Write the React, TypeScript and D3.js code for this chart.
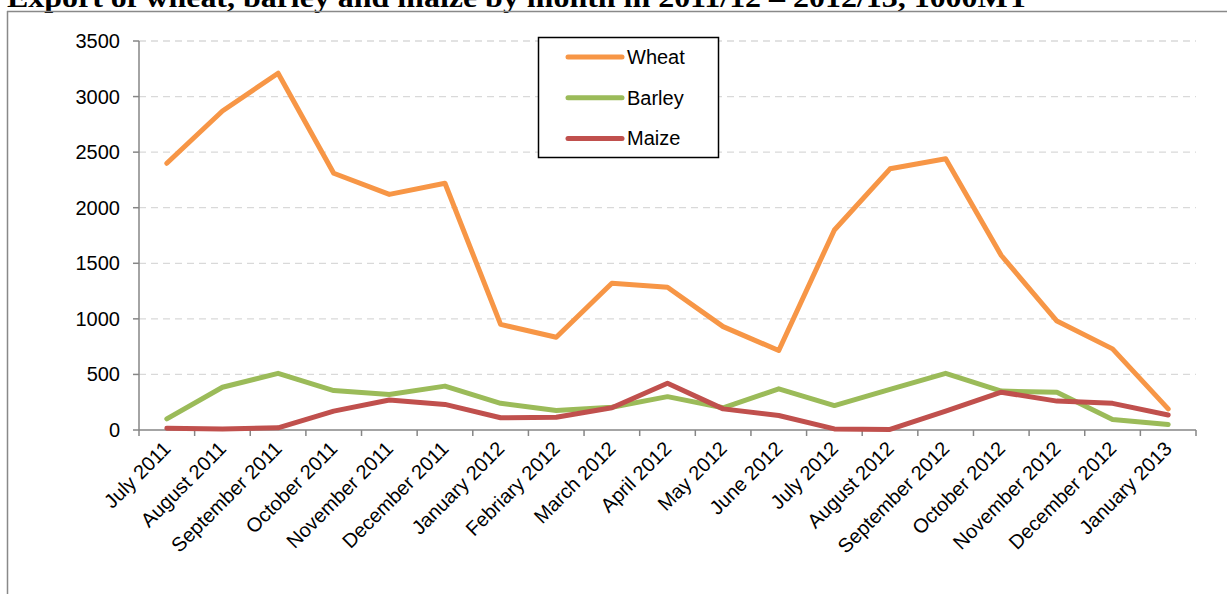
import * as d3 from 'd3';

const months = [
  'July 2011', 'August 2011', 'September 2011', 'October 2011', 'November 2011', 'December 2011',
  'January 2012', 'Febriary 2012', 'March 2012', 'April 2012', 'May 2012', 'June 2012',
  'July 2012', 'August 2012', 'September 2012', 'October 2012', 'November 2012', 'December 2012',
  'January 2013',
];

const wheat = [2400, 2870, 3210, 2310, 2120, 2220, 950, 835, 1320, 1285, 930, 715, 1800, 2350, 2440, 1570, 980, 730, 190];
const barley = [100, 385, 510, 355, 320, 395, 240, 175, 205, 300, 200, 370, 220, 365, 510, 350, 340, 95, 50];
const maize = [15, 10, 20, 170, 270, 230, 110, 115, 200, 420, 190, 130, 10, 5, 170, 340, 260, 240, 135];

const yTicks = [0, 500, 1000, 1500, 2000, 2500, 3000, 3500];

const series = [
  { name: 'Wheat', values: wheat, color: '#F79646' },
  { name: 'Barley', values: barley, color: '#9BBB59' },
  { name: 'Maize', values: maize, color: '#C0504D' },
];

const W = 1227;
const H = 594;
const left = 139;
const right = 1196;
const top = 41;
const bottom = 430;
const font = '"Liberation Sans", Arial, sans-serif';

export default function App() {
  const x = d3.scaleBand<string>().domain(months).range([left, right]).padding(0);
  const y = d3.scaleLinear().domain([0, 3500]).range([bottom, top]);
  const cx = (m: string) => (x(m) || 0) + x.bandwidth() / 2;

  const line = d3.line<number>()
    .x((_, i) => cx(months[i]))
    .y(d => y(d));

  const boundaries = months.map(m => x(m) || 0).concat([right]);

  return (
    <svg width={W} height={H} style={{ position: 'absolute', left: 0, top: 0, background: 'white' }}>
      {/* 제목 (위가 잘려 있음) */}
      <text x={7} y={7} fontFamily='"Liberation Serif", "Times New Roman", serif' fontWeight={700}
        fontSize={28} textLength={1022} lengthAdjust="spacingAndGlyphs" fill="#000">
        Export of wheat, barley and maize by month in 2011/12 – 2012/13, 1000MT
      </text>

      {/* 바깥 테두리 */}
      <line x1={7.5} x2={7.5} y1={11} y2={H} stroke="#898989" strokeWidth={1.5} />
      <line x1={7} x2={W} y1={11.5} y2={11.5} stroke="#898989" strokeWidth={1.5} />

      {/* 격자선 */}
      {yTicks.filter(t => t > 0).map(t => (
        <line key={t} x1={left} x2={right} y1={y(t)} y2={y(t)} stroke="#D9D9D9"
          strokeWidth={1.3} strokeDasharray="7,5" />
      ))}

      {/* Y 축 */}
      <line x1={left} x2={left} y1={top} y2={bottom} stroke="#868686" strokeWidth={1.5} />
      {yTicks.map(t => (
        <g key={t}>
          <line x1={left - 6} x2={left} y1={y(t)} y2={y(t)} stroke="#868686" strokeWidth={1.5} />
          <text x={left - 19} y={y(t) + 7} textAnchor="end" fontFamily={font} fontSize={20} fill="#000">{t}</text>
        </g>
      ))}

      {/* X 축 */}
      <line x1={left} x2={right} y1={bottom} y2={bottom} stroke="#868686" strokeWidth={1.5} />
      {boundaries.map((b, i) => (
        <line key={i} x1={b} x2={b} y1={bottom} y2={bottom + 6} stroke="#868686" strokeWidth={1.5} />
      ))}
      {months.map(m => (
        <text key={m} transform={`translate(${cx(m) + 5},${bottom + 20}) rotate(-45)`} textAnchor="end"
          fontFamily={font} fontSize={20} fill="#000">{m}</text>
      ))}

      {/* 시리즈 선 */}
      {series.map(s => (
        <path key={s.name} d={line(s.values) || ''} fill="none" stroke={s.color} strokeWidth={5}
          strokeLinecap="round" strokeLinejoin="round" />
      ))}

      {/* 범례 */}
      <rect x={538.5} y={37.5} width={180} height={120} fill="white" stroke="#000" strokeWidth={1.5} />
      {series.map((s, i) => (
        <g key={s.name} transform={`translate(0,${57 + i * 40.7})`}>
          <line x1={568} x2={622} y1={0} y2={0} stroke={s.color} strokeWidth={5} strokeLinecap="round" />
          <text x={627} y={7} fontFamily={font} fontSize={20} fill="#000">{s.name}</text>
        </g>
      ))}
    </svg>
  );
}
